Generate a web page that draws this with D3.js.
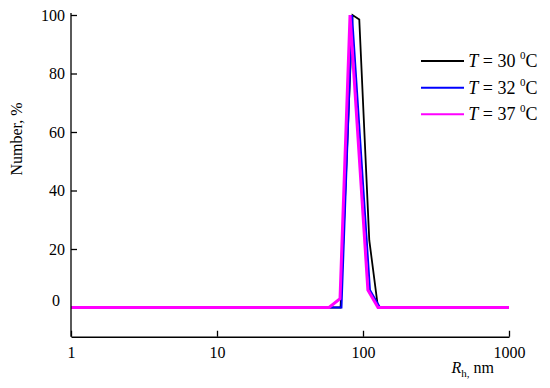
<!DOCTYPE html>
<html><head><meta charset="utf-8">
<script src="https://cdn.jsdelivr.net/npm/d3@7"></script>
<style>
body{margin:0;background:#fff;}
svg{display:block;font-family:"Liberation Serif","Times New Roman",serif;}
</style></head>
<body>
<svg id="c" width="550" height="388"></svg>
<script>
const xTicks = [1, 10, 100, 1000];
const yTicks = [20, 40, 60, 80, 100];
const labels = ["30", "32", "37"];
const colors = ["#000000", "#0000ff", "#ff00ff"];
const widths = [1.8, 2, 3];
const x30 = [1, 70.2, 84.8, 94.3, 110.4, 126.7, 1000];
const y30 = [0, 0, 100, 98.5, 23, 0, 0];
const x32 = [1, 71.2, 84.1, 111.6, 130.7, 1000];
const y32 = [0, 0, 100, 6, 0, 0];
const x37 = [1, 58.5, 69.6, 81.5, 108, 126.7, 1000];
const y37 = [0, 0, 3, 100, 6, 0, 0];
const series = [[x30, y30], [x32, y32], [x37, y37]];

const svg = d3.select("#c");
const x = d3.scaleLog().domain([1, 1000]).range([71, 509]);
const y = d3.scaleLinear().domain([-10, 100]).range([336.75, 15]);

const line = d3.line().x(d => x(d[0])).y(d => y(d[1]));
series.forEach((s, i) => {
  const pts = s[0].map((v, j) => [v, s[1][j]]);
  svg.append("path").attr("d", line(pts)).attr("fill", "none")
    .attr("stroke", colors[i]).attr("stroke-width", widths[i])
    .attr("stroke-linejoin", "miter");
});

const xa = svg.append("g").attr("transform", "translate(0,336.75)")
  .call(d3.axisBottom(x).tickValues(xTicks).tickFormat(d3.format("d"))
    .tickSizeInner(-6).tickSizeOuter(0).tickPadding(10));
const ya = svg.append("g").attr("transform", "translate(71,0)")
  .call(d3.axisLeft(y).tickValues(yTicks).tickFormat(d3.format("d"))
    .tickSizeInner(-6).tickSizeOuter(0).tickPadding(6));
[xa, ya].forEach(g => {
  g.selectAll("path,line").attr("stroke", "#000").attr("stroke-width", 1.3);
  g.selectAll("text").attr("font-size", 16).attr("fill", "#000")
    .attr("font-family", "Liberation Serif");
});
ya.select(".domain").attr("d", "M0,13V336.75");
// zero label
svg.append("text").attr("x", 60).attr("y", y(0) - 7).attr("dy", "0.32em")
  .attr("text-anchor", "end").attr("font-size", 16).text("0");

// axis titles
svg.append("text").attr("transform", "translate(22,139) rotate(-90)")
  .attr("text-anchor", "middle").attr("font-size", 16).text("Number, %");
const xt = svg.append("text").attr("x", 451.5).attr("y", 373).attr("font-size", 16);
xt.append("tspan").attr("font-style", "italic").text("R");
xt.append("tspan").attr("font-size", 11).attr("dy", 4).text("h,");
xt.append("tspan").attr("dy", -4).text(" nm");

// legend
const ly = [61, 87.7, 114.3];
labels.forEach((l, i) => {
  svg.append("line").attr("x1", 421).attr("x2", 464).attr("y1", ly[i]).attr("y2", ly[i])
    .attr("stroke", colors[i]).attr("stroke-width", 2);
  const t = svg.append("text").attr("x", 468.3).attr("y", ly[i] + 6).attr("font-size", 18);
  t.append("tspan").attr("font-style", "italic").text("T");
  t.append("tspan").text(" = " + l + " ");
  t.append("tspan").attr("font-size", 11).attr("dy", -8).text("0");
  t.append("tspan").attr("dy", 8).text("C");
});
</script>
</body></html>
